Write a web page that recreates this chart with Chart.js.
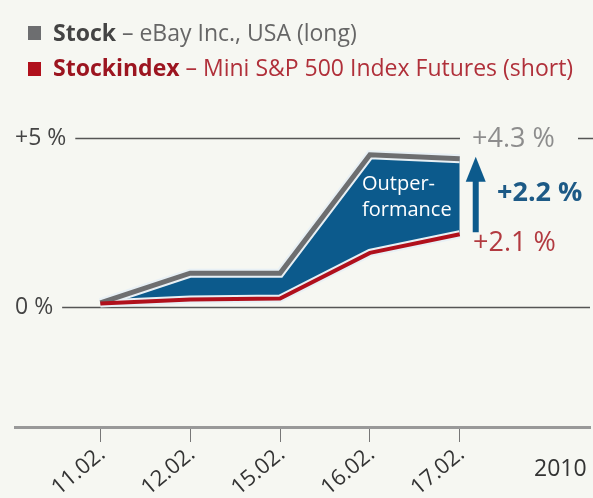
<!DOCTYPE html>
<html>
<head>
<meta charset="utf-8">
<script src="https://cdn.jsdelivr.net/npm/chart.js@4"></script>
<style>
  html, body { margin: 0; padding: 0; background: #f6f7f2; }
  #wrap { position: relative; width: 593px; height: 498px; overflow: hidden; }
  #c { position: absolute; left: 0; top: 0; }
  .leg { position: absolute; left: 53px; font: 23px/31px "Open Sans", sans-serif; white-space: nowrap; }
  .leg b { font-weight: 700; }
  .sq { position: absolute; left: 28px; width: 13px; height: 14px; }
  #year { position: absolute; left: 534px; top: 452px; font: 23px/31px "Open Sans", sans-serif; color: #333; }
</style>
</head>
<body>
<div id="wrap">
  <canvas id="c" width="593" height="498"></canvas>
  <div class="sq" style="top:26px;background:#6d6e70"></div>
  <div class="leg" style="top:17px;color:#666"><b style="color:#444">Stock</b> – eBay Inc., USA (long)</div>
  <div class="sq" style="top:62px;background:#b0101c"></div>
  <div class="leg" style="top:52px;color:#b0303a"><b style="color:#9c1520">Stockindex</b> – Mini S&amp;P 500 Index Futures (short)</div>
  <div id="year">2010</div>
</div>
<script>
const dates = ['11.02.', '12.02.', '15.02.', '16.02.', '17.02.'];
const stock = [0.12, 1.0, 1.0, 4.5, 4.38];
const index = [0.1, 0.22, 0.25, 1.6, 2.15];
const yTicks = [0, 5];
const yLabels = ['0 %', '+5 %'];

const FONT = '"Open Sans", sans-serif';
const GRAY = '#6d6e70';
const RED = '#b0101c';
const BLUE = '#0c5a8c';

// grid lines, y labels and the annotations around the last day
const decor = {
  id: 'decor',
  beforeDatasetsDraw(chart) {
    const ctx = chart.ctx, y = chart.scales.y;
    ctx.save();
    ctx.font = '23px ' + FONT;
    ctx.textBaseline = 'middle';
    yTicks.forEach((v, i) => {
      const py = Math.round(y.getPixelForValue(v)) + 0.5;
      ctx.fillStyle = '#444';
      ctx.fillText(yLabels[i], 15, py);
      const start = 15 + ctx.measureText(yLabels[i]).width + 9;
      ctx.strokeStyle = '#555';
      ctx.lineWidth = 1.5;
      ctx.beginPath();
      if (v === 5) {
        ctx.moveTo(start, py); ctx.lineTo(460, py);
        ctx.moveTo(578, py); ctx.lineTo(593, py);
      } else {
        ctx.moveTo(start, py); ctx.lineTo(590, py);
      }
      ctx.stroke();
    });
    ctx.restore();
  },
  afterDatasetsDraw(chart) {
    const ctx = chart.ctx, x = chart.scales.x, y = chart.scales.y;
    const last = dates.length - 1;
    const ax = x.getPixelForValue(last) + 16;
    const top = y.getPixelForValue(stock[last]) - 2;
    const bot = y.getPixelForValue(index[last]) - 2;
    ctx.save();
    ctx.fillStyle = BLUE;
    ctx.fillRect(ax - 3, top + 22, 6, bot - top - 22);
    ctx.beginPath();
    ctx.moveTo(ax, top);
    ctx.lineTo(ax + 10, top + 25);
    ctx.lineTo(ax - 10, top + 25);
    ctx.closePath();
    ctx.fill();

    ctx.textBaseline = 'middle';
    ctx.font = '27px ' + FONT;
    ctx.fillStyle = '#8d8d8d';
    ctx.fillText('+4.3 %', 472, y.getPixelForValue(5) + 1);
    ctx.fillStyle = '#b23a40';
    ctx.fillText('+2.1 %', 473, y.getPixelForValue(index[last]) + 9);
    ctx.font = 'bold 27px ' + FONT;
    ctx.fillStyle = '#1d5a86';
    ctx.fillText('+2.2 %', 497, (y.getPixelForValue(stock[last]) + y.getPixelForValue(index[last])) / 2 - 3);

    ctx.font = '20px ' + FONT;
    ctx.fillStyle = '#ffffff';
    ctx.fillText('Outper-', 362, 184);
    ctx.fillText('formance', 362, 210);
    ctx.restore();
  }
};

new Chart(document.getElementById('c'), {
  type: 'line',
  data: {
    datasets: [
      { data: index.map((v, i) => ({ x: i, y: v })), borderColor: RED, borderWidth: 4, order: 1 },
      { data: stock.map((v, i) => ({ x: i, y: v })), borderColor: GRAY, borderWidth: 5, order: 1 },
      { data: index.map((v, i) => ({ x: i, y: v })), borderColor: '#e8f0f5', borderWidth: 8, order: 2 },
      { data: stock.map((v, i) => ({ x: i, y: v })), borderColor: '#e8f0f5', borderWidth: 9, order: 2 },
      { data: stock.map((v, i) => ({ x: i, y: v })), borderColor: 'transparent', borderWidth: 0,
        backgroundColor: BLUE, fill: { target: 0 }, order: 3 }
    ]
  },
  options: {
    responsive: false,
    animation: false,
    events: [],
    layout: { padding: { left: 15, right: 3, top: 100, bottom: 0 } },
    elements: {
      point: { radius: 0 },
      line: { tension: 0, borderJoinStyle: 'miter', borderCapStyle: 'butt' }
    },
    plugins: { legend: { display: false }, tooltip: { enabled: false } },
    scales: {
      x: {
        type: 'linear',
        min: -0.95, max: 5.45,
        afterBuildTicks(s) { s.ticks = dates.map((d, i) => ({ value: i })); },
        afterFit(s) { s.height = 71; },
        ticks: {
          autoSkip: false,
          minRotation: 40, maxRotation: 40,
          padding: -1,
          labelOffset: 2,
          color: '#333',
          font: { family: FONT, size: 22 },
          callback: (v) => dates[v]
        },
        grid: { drawOnChartArea: false, tickLength: 15, color: '#777', lineWidth: 1 },
        border: { display: true, color: '#999', width: 3 }
      },
      y: {
        display: false,
        min: -3.55, max: 6.12
      }
    }
  },
  plugins: [decor]
});
</script>
</body>
</html>
